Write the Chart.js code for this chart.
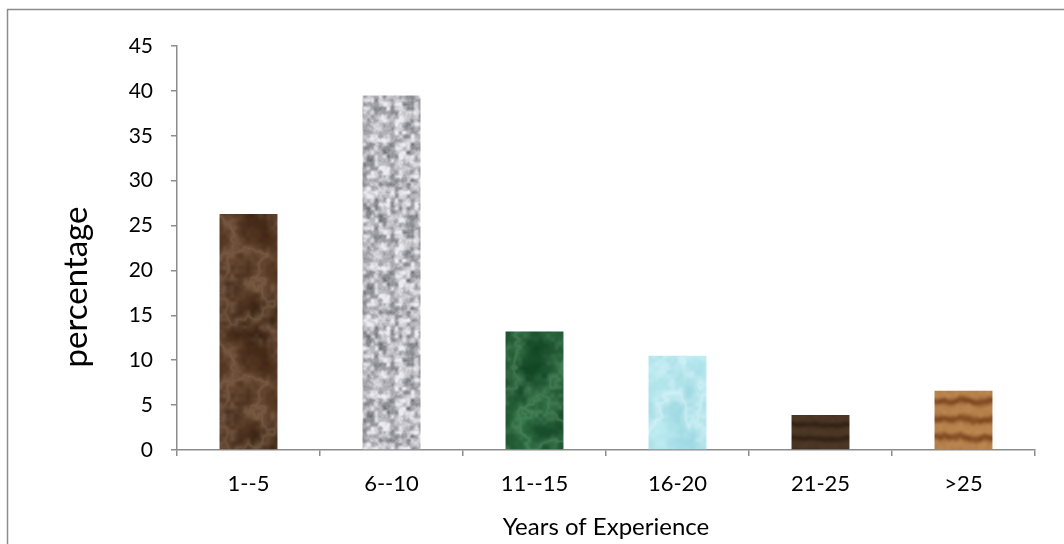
<!DOCTYPE html>
<html>
<head>
    <title>Years of Experience</title>
    <script src="https://cdn.jsdelivr.net/npm/chart.js"></script>
    <style>
        body {
            margin: 0;
            background: #ffffff;
            font-family: Lato, "Open Sans", sans-serif;
        }
        .chart-container {
            width: 1064px;
            height: 544px;
        }
    </style>
</head>
<body>
    <div class="chart-container">
        <canvas id="experienceChart"></canvas>
    </div>

    <script>
        const categories = ['1--5', '6--10', '11--15', '16-20', '21-25', '>25'];
        const percentages = [26.3, 39.5, 13.2, 10.5, 3.9, 6.6];
        const yTicks = [0, 5, 10, 15, 20, 25, 30, 35, 40, 45];

        // tileable value noise, used only to paint the bar textures
        const TILE = 128;
        function hash(i, j, seed) {
            const n = Math.sin(i * 127.1 + j * 311.7 + seed * 17.3) * 43758.5453;
            return n - Math.floor(n);
        }
        function noise(x, y, cell, seed) {
            const p = TILE / cell;
            const gx = x / cell, gy = y / cell;
            const i = Math.floor(gx), j = Math.floor(gy);
            const fx = gx - i, fy = gy - j;
            const sx = fx * fx * (3 - 2 * fx), sy = fy * fy * (3 - 2 * fy);
            const i0 = i % p, j0 = j % p, i1 = (i + 1) % p, j1 = (j + 1) % p;
            const a = hash(i0, j0, seed), b = hash(i1, j0, seed);
            const c = hash(i0, j1, seed), d = hash(i1, j1, seed);
            return a + (b - a) * sx + (c - a) * sy + (a - b - c + d) * sx * sy;
        }
        function fbm(x, y, seed) {
            return noise(x, y, 32, seed) * 0.5 + noise(x, y, 16, seed + 1) * 0.25 +
                   noise(x, y, 8, seed + 2) * 0.15 + noise(x, y, 4, seed + 3) * 0.1;
        }
        function mix(c1, c2, t) {
            t = Math.max(0, Math.min(1, t));
            return [c1[0] + (c2[0] - c1[0]) * t, c1[1] + (c2[1] - c1[1]) * t, c1[2] + (c2[2] - c1[2]) * t];
        }
        function makePattern(ctx, paint) {
            const c = document.createElement('canvas');
            c.width = TILE; c.height = TILE;
            const g = c.getContext('2d');
            const img = g.createImageData(TILE, TILE);
            for (let y = 0; y < TILE; y++) {
                for (let x = 0; x < TILE; x++) {
                    const col = paint(x, y);
                    const k = (y * TILE + x) * 4;
                    img.data[k] = col[0]; img.data[k + 1] = col[1]; img.data[k + 2] = col[2]; img.data[k + 3] = 255;
                }
            }
            g.putImageData(img, 0, 0);
            return ctx.createPattern(c, 'repeat');
        }
        function marble(base1, base2, vein, seed) {
            return (x, y) => {
                const f = fbm(x, y, seed);
                const r = 1 - Math.abs(2 * fbm(x + 40, y + 17, seed + 9) - 1);
                return mix(mix(base1, base2, f * 1.4 - 0.2), vein, Math.pow(r, 4) * 0.55);
            };
        }
        function granite(x, y) {
            const v = noise(x, y, 4, 31) * 0.55 + noise(x, y, 8, 37) * 0.3 + noise(x, y, 2, 41) * 0.15;
            return mix([110, 110, 118], [236, 236, 240], v * 1.5 - 0.15);
        }
        function water(x, y) {
            const r = 1 - Math.abs(2 * fbm(x, y, 51) - 1);
            const f = fbm(x + 11, y + 5, 57);
            return mix(mix([150, 212, 222], [196, 240, 246], f * 1.5 - 0.2), [228, 250, 253], Math.pow(r, 4) * 0.6);
        }
        function wood(light, dark, seed, freq, depth) {
            return (x, y) => {
                const f = fbm(x, y * 0.3, seed);
                const s = 0.5 + 0.5 * Math.sin((y / TILE) * Math.PI * 2 * freq + f * 5);
                return mix(light, dark, Math.pow(s, 2) * depth + noise(x, y, 4, seed + 5) * 0.15);
            };
        }

        // draws the outer frame and the rotated y title
        const framePlugin = {
            id: 'frame',
            beforeDraw(chart) {
                const c = chart.ctx;
                c.save();
                c.strokeStyle = '#8c8c8c';
                c.lineWidth = 1.5;
                c.strokeRect(7.5, 9.5, 1200, 700);
                c.restore();
            },
            afterDraw(chart) {
                const c = chart.ctx;
                c.save();
                c.translate(76, 287);
                c.rotate(-Math.PI / 2);
                c.fillStyle = '#000000';
                c.font = '33px Lato, "Open Sans", sans-serif';
                c.textAlign = 'center';
                c.textBaseline = 'middle';
                c.fillText('percentage', 0, 0);
                c.restore();
            }
        };

        const ctx = document.getElementById('experienceChart').getContext('2d');
        const textures = [
            makePattern(ctx, marble([45, 24, 10], [96, 62, 38], [150, 120, 96], 3)),
            makePattern(ctx, granite),
            makePattern(ctx, marble([12, 58, 28], [34, 98, 56], [100, 160, 115], 13)),
            makePattern(ctx, water),
            makePattern(ctx, wood([78, 56, 38], [46, 30, 18], 21, 9, 0.7)),
            makePattern(ctx, wood([190, 136, 82], [120, 66, 26], 27, 7, 0.75))
        ];

        new Chart(ctx, {
            type: 'bar',
            data: {
                labels: categories,
                datasets: [{
                    data: percentages,
                    backgroundColor: textures,
                    borderWidth: 0,
                    barPercentage: 0.405,
                    categoryPercentage: 1
                }]
            },
            options: {
                responsive: true,
                maintainAspectRatio: false,
                animation: false,
                layout: {
                    padding: { left: 8, right: 29, top: 46, bottom: 0 }
                },
                plugins: {
                    legend: { display: false },
                    tooltip: { enabled: false }
                },
                scales: {
                    x: {
                        grid: {
                            offset: true,
                            drawOnChartArea: false,
                            drawTicks: true,
                            tickLength: 6,
                            color: '#8c8c8c',
                            lineWidth: 1.5
                        },
                        border: { color: '#8c8c8c', width: 1.5 },
                        ticks: {
                            color: '#000000',
                            padding: 15,
                            maxRotation: 0,
                            font: { family: 'Lato', size: 22 }
                        },
                        title: {
                            display: true,
                            text: 'Years of Experience',
                            color: '#000000',
                            padding: { top: 0, bottom: 2 },
                            font: { family: 'Lato', size: 24 }
                        },
                        afterFit(scale) { scale.height = 94; }
                    },
                    y: {
                        min: 0,
                        max: 45,
                        afterBuildTicks(scale) {
                            scale.ticks = yTicks.map(v => ({ value: v }));
                        },
                        grid: {
                            drawOnChartArea: false,
                            drawTicks: true,
                            tickLength: 6,
                            color: '#8c8c8c',
                            lineWidth: 1.5
                        },
                        border: { color: '#8c8c8c', width: 1.5 },
                        ticks: {
                            color: '#000000',
                            padding: 18,
                            font: { family: 'Lato', size: 21 }
                        },
                        afterFit(scale) { scale.width = 169; }
                    }
                }
            },
            plugins: [framePlugin]
        });
    </script>
</body>
</html>
